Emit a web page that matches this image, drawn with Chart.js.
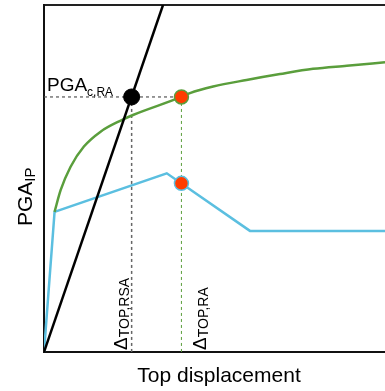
<!DOCTYPE html>
<html>
<head>
<meta charset="utf-8">
<script src="https://cdn.jsdelivr.net/npm/chart.js@4/dist/chart.umd.min.js"></script>
<style>
  html, body { margin: 0; padding: 0; background: #fff; }
</style>
</head>
<body>
<canvas id="chart" width="385" height="391"></canvas>
<script>
// capacity curve (blue), demand curve (green), secant line (black)
const capacityX = [0, 3.1, 36.0, 60.4, 100];
const capacityY = [0, 40.4, 51.5, 34.9, 34.9];

const demandX = [3.1, 4.9, 7.8, 11.7, 16.6, 22.5, 26.1, 40.3, 42.8, 49.6, 59.4, 69.2, 78.9, 88.8, 100];
const demandY = [40.4, 46.7, 53.4, 59.2, 63.5, 66.7, 68.3, 73.5, 74.6, 76.5, 78.4, 80.1, 81.6, 82.5, 83.5];

const secantX = [0, 34.9];
const secantY = [0, 100];

// marked points
const pgaCRA = 73.5;
const dTopRSA = 25.7;
const dTopRA = 40.3;
const pgaCapRA = 48.6;

const GREEN = '#5a9e3c';
const BLUE = '#5bbfe0';
const RED = '#ff3d00';

function pts(xs, ys) {
    return xs.map((x, i) => ({ x: x, y: ys[i] }));
}

function drawSub(ctx, x, y, main, sub, mainSize, subSize, drop, rot) {
    ctx.save();
    ctx.translate(x, y);
    ctx.rotate(rot);
    ctx.fillStyle = '#000';
    ctx.textBaseline = 'alphabetic';
    ctx.textAlign = 'left';
    ctx.font = mainSize + 'px "Liberation Sans", Arial, sans-serif';
    ctx.fillText(main, 0, 0);
    const w = ctx.measureText(main).width;
    ctx.font = subSize + 'px "Liberation Sans", Arial, sans-serif';
    ctx.fillText(sub, w, drop);
    ctx.restore();
}

const labelsPlugin = {
    id: 'labels',
    afterDraw(chart) {
        const ctx = chart.ctx;
        drawSub(ctx, 47, 91, 'PGA', 'c,RA', 19, 12, 5, 0);
        drawSub(ctx, 32, 226, 'PGA', 'IP', 21, 15, 3, -Math.PI / 2);
        drawSub(ctx, 127, 350, '\u0394', 'TOP,RSA', 19, 14, 2, -Math.PI / 2);
        drawSub(ctx, 206, 350, '\u0394', 'TOP,RA', 19, 14, 2, -Math.PI / 2);

        ctx.save();
        ctx.fillStyle = '#000';
        ctx.font = '21px "Liberation Sans", Arial, sans-serif';
        ctx.textAlign = 'center';
        ctx.fillText('Top displacement', 219, 382);
        ctx.restore();
    }
};

const axisStyle = {
    type: 'linear',
    min: 0,
    max: 100,
    grid: { display: false, drawTicks: false },
    ticks: { display: false },
    border: { display: true, color: '#111', width: 2 }
};

new Chart(document.getElementById('chart'), {
    type: 'scatter',
    data: {
        datasets: [
            {
                data: [{ x: dTopRSA, y: pgaCRA }],
                pointRadius: 8,
                pointBackgroundColor: '#000',
                pointBorderColor: '#000',
                showLine: false
            },
            {
                data: [{ x: dTopRA, y: pgaCRA }],
                pointRadius: 7,
                pointBorderWidth: 1.5,
                pointBackgroundColor: RED,
                pointBorderColor: GREEN,
                showLine: false
            },
            {
                data: [{ x: dTopRA, y: pgaCapRA }],
                pointRadius: 7,
                pointBorderWidth: 1.5,
                pointBackgroundColor: RED,
                pointBorderColor: BLUE,
                showLine: false
            },
            {
                data: pts(secantX, secantY),
                showLine: true,
                borderColor: '#000',
                borderWidth: 2.5,
                pointRadius: 0
            },
            {
                data: pts(demandX, demandY),
                showLine: true,
                borderColor: GREEN,
                borderWidth: 2.5,
                pointRadius: 0,
                cubicInterpolationMode: 'monotone'
            },
            {
                data: pts(capacityX, capacityY),
                showLine: true,
                borderColor: BLUE,
                borderWidth: 2.5,
                pointRadius: 0
            },
            {
                data: [{ x: 0, y: pgaCRA }, { x: dTopRA, y: pgaCRA }],
                showLine: true,
                borderColor: '#555',
                borderWidth: 1.2,
                borderDash: [3, 3],
                pointRadius: 0
            },
            {
                data: [{ x: dTopRSA, y: pgaCRA }, { x: dTopRSA, y: 0 }],
                showLine: true,
                borderColor: '#666',
                borderWidth: 1.5,
                borderDash: [3, 3],
                pointRadius: 0
            },
            {
                data: [{ x: dTopRA, y: pgaCRA }, { x: dTopRA, y: 0 }],
                showLine: true,
                borderColor: GREEN,
                borderWidth: 1,
                borderDash: [3, 3],
                pointRadius: 0
            }
        ]
    },
    options: {
        responsive: false,
        animation: false,
        devicePixelRatio: 1,
        layout: { autoPadding: false, padding: { left: 44, top: 5, right: 0, bottom: 39 } },
        plugins: {
            legend: { display: false },
            tooltip: { enabled: false }
        },
        scales: {
            x: Object.assign({ position: 'bottom' }, axisStyle),
            xTop: Object.assign({ position: 'top' }, axisStyle, { border: { display: true, color: '#222', width: 2 } }),
            y: Object.assign({ position: 'left' }, axisStyle)
        }
    },
    plugins: [labelsPlugin]
});
</script>
</body>
</html>
